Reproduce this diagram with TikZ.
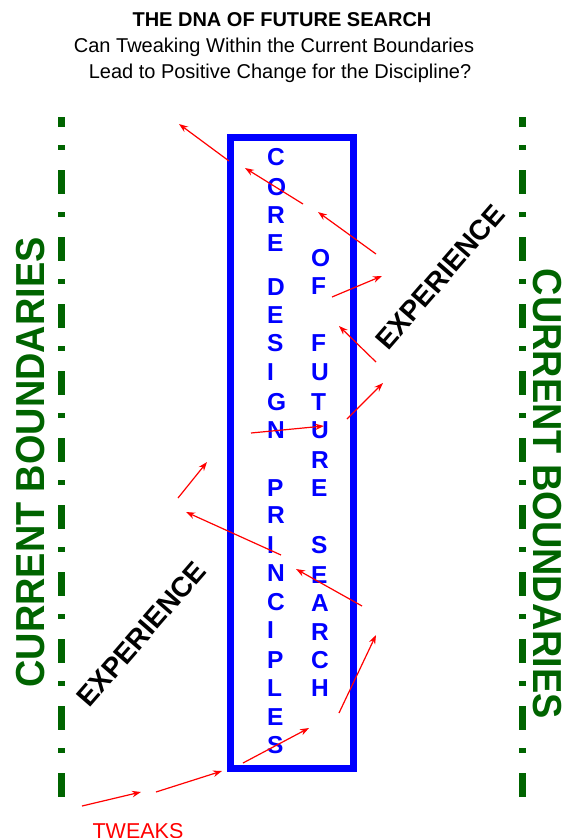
\documentclass[tikz,border=0pt]{standalone}
\usepackage{fontspec}
\setmainfont{Liberation Sans}
\usetikzlibrary{arrows.meta}
\definecolor{bgreen}{RGB}{0,100,0}
\begin{document}
\begin{tikzpicture}[x=1pt,y=-1pt,
  tweak/.style={red, line width=1.2pt, -{Stealth[length=9pt,width=6.5pt]}},
  bound/.style={bgreen, line width=7pt, dash pattern=on 24pt off 18pt on 5pt off 20pt, dash phase=14pt},
  boundtext/.style={bgreen, inner sep=0pt, font=\bfseries\fontsize{40.5}{44}\selectfont},
  letter/.style={blue, anchor=west, inner sep=0pt, font=\bfseries\fontsize{24.5}{28}\selectfont},
  exptext/.style={black, inner sep=0pt, font=\bfseries\fontsize{28}{32}\selectfont},
  titletext/.style={anchor=base, inner sep=0pt, font=\fontsize{20}{24}\selectfont}
]
\useasboundingbox (0,0) rectangle (564,838);

% title
\node[titletext, font=\bfseries\fontsize{20}{24}\selectfont] (title) at (282,26) {THE DNA OF FUTURE SEARCH};
\node[titletext] (sub1) at (274,52) {Can Tweaking Within the Current Boundaries};
\node[titletext] (sub2) at (280,78) {Lead to Positive Change for the Discipline?};

% boundaries
\coordinate (lt) at (61.5,117);
\coordinate (lb) at (61.5,797);
\coordinate (rt) at (522.5,117);
\coordinate (rb) at (522.5,797);
\draw[bound] (lt) -- (lb);
\draw[bound] (rt) -- (rb);
\node[boundtext, rotate=90] (cbl) at (30.5,462.5) {\scalebox{0.935}[1]{CURRENT BOUNDARIES}};
\node[boundtext, rotate=-90] (cbr) at (547.5,494) {\scalebox{0.935}[1]{CURRENT BOUNDARIES}};

% central box
\node[draw=blue, line width=7pt, minimum width=123.5pt, minimum height=631pt, inner sep=0pt] (box) at (291.75,452.5) {};

% letters, column 1
\foreach \ch/\yy in {C/157, O/187, R/215, E/243, D/287, E/315, S/343, I/372, G/402, N/430,
  P/488, R/515, I/545, N/573, C/602, I/630, P/660, L/688, E/717, S/745}
  \node[letter] (ca\yy) at (267,\yy) {\ch};
% letters, column 2
\foreach \ch/\yy in {O/258, F/286, F/343, U/372, T/402, U/430, R/460, E/488,
  S/545, E/575, A/603, R/632, C/660, H/688}
  \node[letter] (cb\yy) at (311,\yy) {\ch};

% experience
\node[exptext, rotate=49] (exp1) at (440,277) {EXPERIENCE};
\node[exptext, rotate=49] (exp2) at (141.5,634) {EXPERIENCE};

% tweaks
\node[red, anchor=base, inner sep=0pt, font=\fontsize{21.5}{24}\selectfont] (tw) at (138,838) {TWEAKS};

% red arrows
\foreach \i/\xa/\ya/\xb/\yb in {
  1/229/161/179/124,
  2/303/204/245/168,
  3/376/254/318/212,
  4/332/297/382/276,
  5/376/362/339/326,
  6/347/419/383/383,
  7/251/433/324/426,
  8/178/498/207/462,
  9/281/555/186/512,
  10/362/606/296/569,
  11/339/713/376/635,
  12/243/763/309/728,
  13/156/792/222/771,
  14/82/806/141/792}
{
  \coordinate (s\i) at (\xa,\ya);
  \coordinate (e\i) at (\xb,\yb);
  \draw[tweak] (s\i) -- (e\i);
}
\end{tikzpicture}
\end{document}
